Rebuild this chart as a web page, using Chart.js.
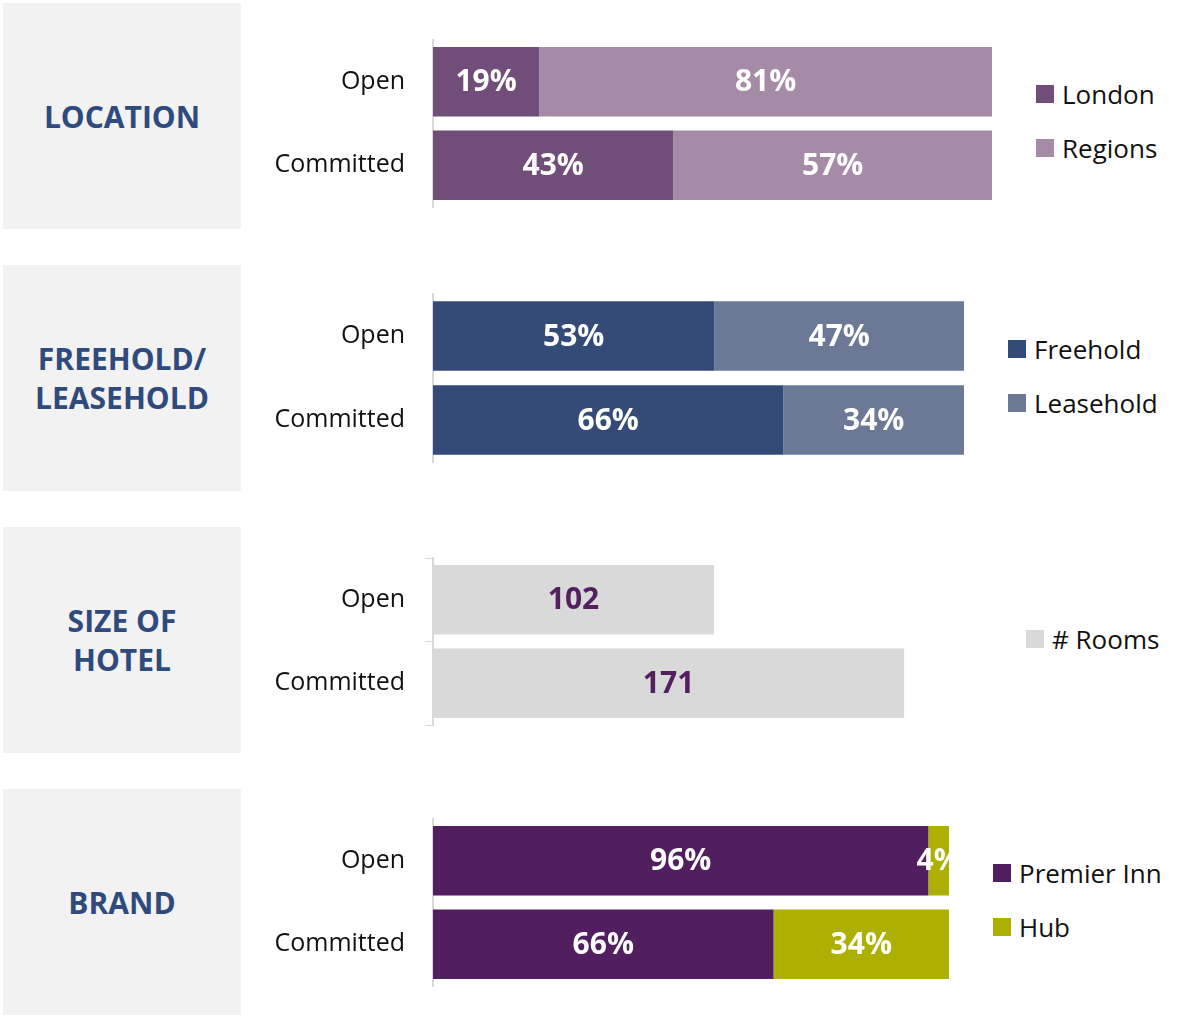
<!DOCTYPE html>
<html>
<head>
<meta charset="utf-8">
<script src="https://cdn.jsdelivr.net/npm/chart.js@4.4.1/dist/chart.umd.min.js"></script>
<style>
  body { margin: 0; background: #fff; font-family: "Open Sans", sans-serif; }
  #page { position: relative; width: 1191px; height: 1017px; overflow: hidden; }
  .box {
    position: absolute; left: 3px; width: 238px; height: 226px; background: #f2f2f2;
    display: flex; align-items: center; justify-content: center; text-align: center;
    color: #2f4a7c; font-weight: bold; font-size: 30px; line-height: 39px;
  }
  .chart { position: absolute; left: 250px; }
  .legend { position: absolute; font-size: 26px; color: #111; }
  .legend div { height: 54px; display: flex; align-items: center; white-space: nowrap; }
  .legend span { display: inline-block; width: 18px; height: 18px; margin-right: 8px; }
</style>
</head>
<body>
<div id="page"></div>

<script>
// ---- data ----
const rowLabels = ['Open', 'Committed'];

const locationNames = ['London', 'Regions'];
const londonShare = [19, 43];
const regionsShare = [81, 57];

const tenureNames = ['Freehold', 'Leasehold'];
const freeholdShare = [53, 66];
const leaseholdShare = [47, 34];

const sizeNames = ['# Rooms'];
const avgRooms = [102, 171];

const brandNames = ['Premier Inn', 'Hub'];
const premierInnShare = [96, 66];
const hubShare = [4, 34];

// ---- panels ----
const PAD = 4; // room above/below the plot so end ticks are not cut off

const panels = [
  {
    title: 'LOCATION', boxTop: 3, top: 40, height: 167, width: 742, xMax: 100,
    legendLeft: 1036, legendTop: 67,
    series: [
      { label: locationNames[0], data: londonShare, color: '#714d7a', suffix: '%' },
      { label: locationNames[1], data: regionsShare, color: '#a68ba8', suffix: '%' }
    ]
  },
  {
    title: 'FREEHOLD/<br>LEASEHOLD', boxTop: 265, top: 294, height: 168, width: 714, xMax: 100,
    legendLeft: 1008, legendTop: 322,
    series: [
      { label: tenureNames[0], data: freeholdShare, color: '#344b78', suffix: '%' },
      { label: tenureNames[1], data: leaseholdShare, color: '#6b7896', suffix: '%' }
    ]
  },
  {
    title: 'SIZE OF<br>HOTEL', boxTop: 527, top: 558, height: 167, width: 734, xMax: 200,
    legendLeft: 1026, legendTop: 612, ticks: true,
    series: [
      { label: sizeNames[0], data: avgRooms, color: '#d9d9d9', suffix: '', labelColor: '#531f5f' }
    ]
  },
  {
    title: 'BRAND', boxTop: 789, top: 819, height: 167, width: 699, xMax: 100,
    legendLeft: 993, legendTop: 846,
    series: [
      { label: brandNames[0], data: premierInnShare, color: '#511f5f', suffix: '%' },
      { label: brandNames[1], data: hubShare, color: '#adb000', suffix: '%' }
    ]
  }
];

// value labels centred in each segment, clipped to the plot area
const barLabels = {
  id: 'barLabels',
  afterDatasetsDraw(chart) {
    const ctx = chart.ctx, area = chart.chartArea;
    ctx.save();
    ctx.beginPath();
    ctx.rect(area.left, area.top, area.right - area.left, area.bottom - area.top);
    ctx.clip();
    ctx.font = 'bold 30px "Open Sans"';
    ctx.textAlign = 'center';
    ctx.textBaseline = 'middle';
    chart.data.datasets.forEach((ds, i) => {
      chart.getDatasetMeta(i).data.forEach((bar, j) => {
        ctx.fillStyle = ds.labelColor || '#ffffff';
        ctx.fillText(ds.data[j] + ds.suffix, (bar.x + bar.base) / 2, bar.y + 1);
      });
    });
    ctx.restore();
  }
};

const page = document.getElementById('page');

panels.forEach(p => {
  const box = document.createElement('div');
  box.className = 'box';
  box.style.top = p.boxTop + 'px';
  box.innerHTML = p.title;
  page.appendChild(box);

  const canvas = document.createElement('canvas');
  canvas.className = 'chart';
  canvas.width = p.width;
  canvas.height = p.height + 2 * PAD;
  canvas.style.top = (p.top - PAD) + 'px';
  page.appendChild(canvas);

  const legend = document.createElement('div');
  legend.className = 'legend';
  legend.style.left = p.legendLeft + 'px';
  legend.style.top = p.legendTop + 'px';
  p.series.forEach(s => {
    const item = document.createElement('div');
    item.innerHTML = '<span style="background:' + s.color + '"></span>' + s.label;
    legend.appendChild(item);
  });
  page.appendChild(legend);

  new Chart(canvas, {
    type: 'bar',
    data: {
      labels: rowLabels,
      datasets: p.series.map(s => ({
        label: s.label,
        data: s.data,
        backgroundColor: s.color,
        borderWidth: 0,
        suffix: s.suffix,
        labelColor: s.labelColor,
        barPercentage: 0.83,
        categoryPercentage: 1
      }))
    },
    options: {
      indexAxis: 'y',
      responsive: false,
      animation: false,
      layout: { padding: { top: PAD, bottom: PAD, left: 0, right: 0 } },
      plugins: { legend: { display: false }, tooltip: { enabled: false } },
      scales: {
        x: { stacked: true, display: false, min: 0, max: p.xMax },
        y: {
          stacked: true,
          afterFit(scale) {
            scale.width = 183;
            scale.paddingTop = 0;
            scale.paddingBottom = 0;
          },
          border: { display: true, color: '#d9d9d9', width: 2 },
          grid: {
            display: !!p.ticks,
            offset: true,
            drawOnChartArea: false,
            drawTicks: true,
            tickLength: 8,
            color: '#d9d9d9'
          },
          ticks: {
            color: '#111',
            padding: 20,
            font: { family: 'Open Sans', size: 25 }
          }
        }
      }
    },
    plugins: [barLabels]
  });
});
</script>
</body>
</html>
